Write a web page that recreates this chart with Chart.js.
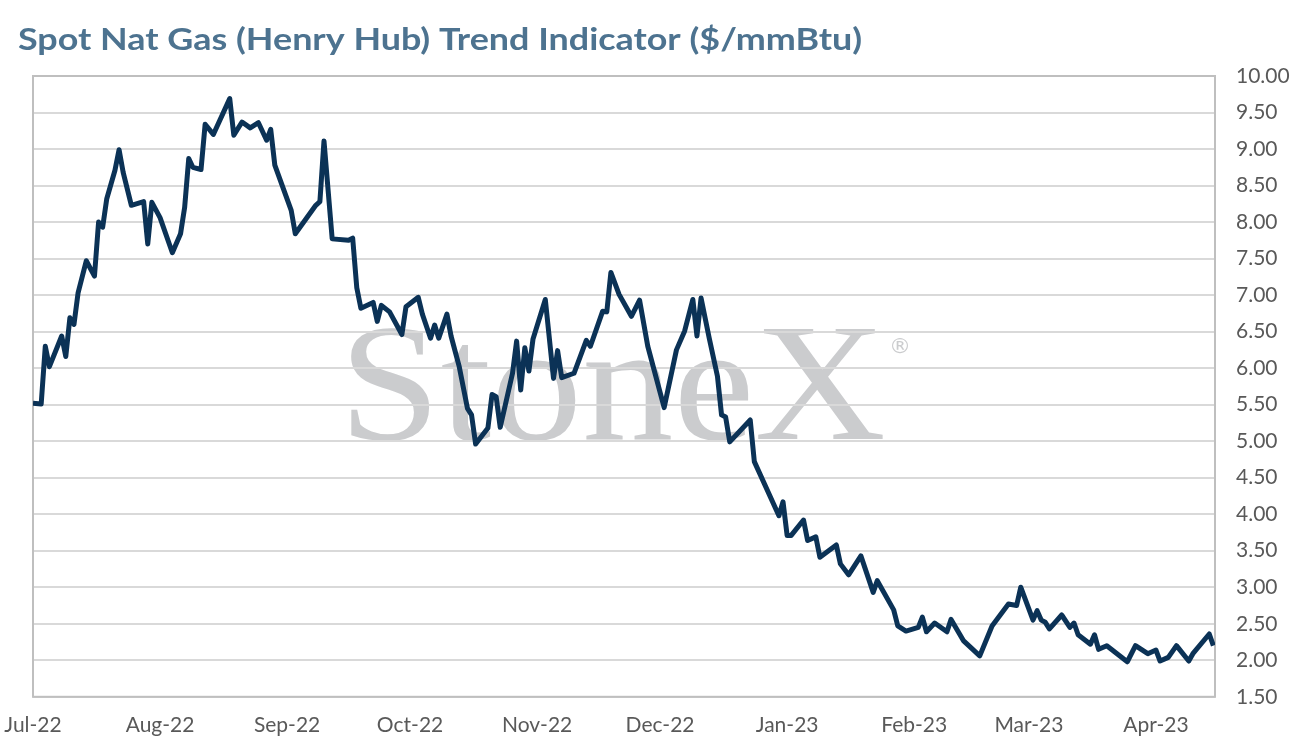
<!DOCTYPE html>
<html>
<head>
<meta charset="utf-8">
<script src="https://cdn.jsdelivr.net/npm/chart.js@4"></script>
<style>
  html, body { margin: 0; padding: 0; background: #fff; }
  #wrap { width: 1292px; height: 754px; }
</style>
</head>
<body>
<div id="wrap"><canvas id="gasChart"></canvas></div>
<script>
const chartTitle = 'Spot Nat Gas (Henry Hub) Trend Indicator ($/mmBtu)';

const dates = [
  '2022-07-01','2022-07-03','2022-07-04','2022-07-05','2022-07-08','2022-07-09','2022-07-10','2022-07-11','2022-07-12','2022-07-14',
  '2022-07-16','2022-07-17','2022-07-18','2022-07-19','2022-07-21','2022-07-22','2022-07-23','2022-07-25','2022-07-28','2022-07-29','2022-07-30',
  '2022-08-01','2022-08-04','2022-08-06','2022-08-07','2022-08-08','2022-08-09','2022-08-11','2022-08-12','2022-08-14','2022-08-18',
  '2022-08-19','2022-08-21','2022-08-23','2022-08-25','2022-08-27','2022-08-28','2022-08-29',
  '2022-09-02','2022-09-03','2022-09-08','2022-09-09','2022-09-10','2022-09-12','2022-09-16','2022-09-17','2022-09-18','2022-09-19',
  '2022-09-22','2022-09-23','2022-09-24','2022-09-26','2022-09-29','2022-09-30',
  '2022-10-03','2022-10-04','2022-10-06','2022-10-07','2022-10-08','2022-10-10','2022-10-11','2022-10-13','2022-10-15','2022-10-16',
  '2022-10-17','2022-10-20','2022-10-21','2022-10-22','2022-10-23','2022-10-26','2022-10-27','2022-10-28','2022-10-29','2022-10-30','2022-10-31',
  '2022-11-03','2022-11-05','2022-11-06','2022-11-07','2022-11-10','2022-11-13','2022-11-14','2022-11-17','2022-11-18','2022-11-19',
  '2022-11-21','2022-11-24','2022-11-26','2022-11-28',
  '2022-12-02','2022-12-05','2022-12-07','2022-12-09','2022-12-10','2022-12-11','2022-12-13','2022-12-15','2022-12-16','2022-12-17',
  '2022-12-18','2022-12-23','2022-12-24','2022-12-30','2022-12-31',
  '2023-01-01','2023-01-02','2023-01-05','2023-01-06','2023-01-08','2023-01-09','2023-01-13','2023-01-14','2023-01-16','2023-01-19',
  '2023-01-22','2023-01-23','2023-01-27','2023-01-28','2023-01-30',
  '2023-02-02','2023-02-03','2023-02-04','2023-02-06','2023-02-09','2023-02-10','2023-02-13','2023-02-17','2023-02-20','2023-02-24',
  '2023-02-26','2023-02-27',
  '2023-03-02','2023-03-03','2023-03-04','2023-03-05','2023-03-06','2023-03-09','2023-03-11','2023-03-12','2023-03-13','2023-03-16',
  '2023-03-17','2023-03-18','2023-03-20','2023-03-25','2023-03-27','2023-03-30',
  '2023-04-01','2023-04-02','2023-04-04','2023-04-06','2023-04-09','2023-04-10','2023-04-14','2023-04-15'
];

const prices = [
  5.52, 5.51, 6.30, 6.02, 6.44, 6.16, 6.69, 6.60, 7.03, 7.47,
  7.26, 8.00, 7.93, 8.32, 8.71, 8.99, 8.68, 8.23, 8.28, 7.70, 8.27,
  8.06, 7.58, 7.84, 8.20, 8.87, 8.75, 8.72, 9.34, 9.20, 9.69,
  9.19, 9.37, 9.29, 9.36, 9.12, 9.27, 8.78,
  8.16, 7.84, 8.23, 8.28, 9.11, 7.77, 7.75, 7.78, 7.10, 6.82,
  6.90, 6.64, 6.86, 6.77, 6.46, 6.84,
  6.97, 6.74, 6.41, 6.59, 6.41, 6.74, 6.44, 6.02, 5.45, 5.36,
  4.96, 5.18, 5.64, 5.61, 5.19, 5.93, 6.37, 5.70, 6.28, 5.96, 6.40,
  6.94, 5.86, 6.24, 5.87, 5.93, 6.38, 6.30, 6.78, 6.77, 7.31,
  7.01, 6.71, 6.93, 6.30,
  5.46, 6.25, 6.51, 6.94, 6.44, 6.96, 6.41, 5.89, 5.36, 5.33,
  4.99, 5.29, 4.72, 3.98, 4.17,
  3.71, 3.71, 3.92, 3.64, 3.69, 3.41, 3.58, 3.32, 3.17, 3.43,
  2.93, 3.09, 2.69, 2.47, 2.40,
  2.45, 2.59, 2.39, 2.51, 2.39, 2.56, 2.27, 2.06, 2.47, 2.77,
  2.75, 3.00,
  2.55, 2.68, 2.55, 2.52, 2.43, 2.62, 2.45, 2.51, 2.35, 2.22,
  2.35, 2.15, 2.20, 1.98, 2.20, 2.09,
  2.14, 1.99, 2.04, 2.20, 1.99, 2.09, 2.36, 2.20
];

const monthStarts = ['2022-07-01','2022-08-01','2022-09-01','2022-10-01','2022-11-01','2022-12-01','2023-01-01','2023-02-01','2023-03-01','2023-04-01'];
const monthLabels = ['Jul-22','Aug-22','Sep-22','Oct-22','Nov-22','Dec-22','Jan-23','Feb-23','Mar-23','Apr-23'];

const origin = Date.parse(dates[0]);
const dayOf = d => (Date.parse(d) - origin) / 86400000;
const monthTicks = monthStarts.map(dayOf);

// title drawn by hand so it can be stretched to the reference width
const titlePlugin = {
  id: 'bigTitle',
  afterDraw(chart) {
    const { ctx } = chart;
    ctx.save();
    ctx.fillStyle = '#4d7390';
    ctx.font = 'bold 31px Lato';
    ctx.textBaseline = 'alphabetic';
    const w = ctx.measureText(chartTitle).width;
    ctx.translate(18, 50);
    ctx.scale(844 / w, 1);
    ctx.fillText(chartTitle, 0, 0);
    ctx.restore();
  }
};

// gray StoneX watermark behind the grid
const watermark = {
  id: 'watermark',
  beforeDraw(chart) {
    const { ctx } = chart;
    ctx.save();
    ctx.fillStyle = '#cbccce';
    ctx.font = '168px "Liberation Serif"';
    ctx.textBaseline = 'alphabetic';
    const w = ctx.measureText('StoneX').width;
    ctx.translate(339, 439);
    ctx.scale(547 / w, 1);
    ctx.fillText('StoneX', 0, 0);
    ctx.restore();
    ctx.save();
    ctx.fillStyle = '#cbccce';
    ctx.font = '22px "DejaVu Sans"';
    ctx.textAlign = 'center';
    ctx.textBaseline = 'middle';
    ctx.fillText('\u00AE', 900, 347);
    ctx.restore();
  }
};

const frame = {
  id: 'frame',
  beforeDatasetsDraw(chart) {
    const { ctx, chartArea: a } = chart;
    ctx.save();
    ctx.strokeStyle = '#bfbfbf';
    ctx.lineWidth = 2;
    ctx.strokeRect(a.left, a.top, a.right - a.left, a.bottom - a.top);
    ctx.restore();
  }
};

const ctx = document.getElementById('gasChart').getContext('2d');
new Chart(ctx, {
  type: 'line',
  data: {
    datasets: [{
      data: dates.map((d, i) => ({ x: dayOf(d), y: prices[i] })),
      borderColor: '#0b3256',
      borderWidth: 5,
      pointRadius: 0,
      tension: 0,
      fill: false,
      borderJoinStyle: 'round'
    }]
  },
  plugins: [watermark, frame, titlePlugin],
  options: {
    responsive: true,
    maintainAspectRatio: false,
    animation: false,
    layout: { padding: { left: 33, right: 0, top: 76, bottom: 0 } },
    plugins: {
      legend: { display: false },
      tooltip: { enabled: false },
      title: { display: false }
    },
    scales: {
      x: {
        type: 'linear',
        min: 0,
        max: 288.4,
        grid: { display: false, drawTicks: false },
        border: { display: false },
        afterBuildTicks: scale => { scale.ticks = monthTicks.map(v => ({ value: v })); },
        afterFit: scale => { scale.paddingLeft = 0; scale.paddingRight = 0; },
        ticks: {
          autoSkip: false,
          maxRotation: 0,
          padding: 16,
          color: '#595959',
          font: { family: 'Lato', size: 21 },
          callback: (v, i) => monthLabels[i]
        }
      },
      y: {
        position: 'right',
        min: 1.5,
        max: 10,
        afterFit: scale => { scale.width = 77; },
        grid: { color: '#d9d9d9', lineWidth: 2, drawTicks: false },
        border: { display: false },
        ticks: {
          stepSize: 0.5,
          padding: 21,
          color: '#595959',
          font: { family: 'Lato', size: 21 },
          callback: v => v.toFixed(2)
        }
      }
    }
  }
});
</script>
</body>
</html>
